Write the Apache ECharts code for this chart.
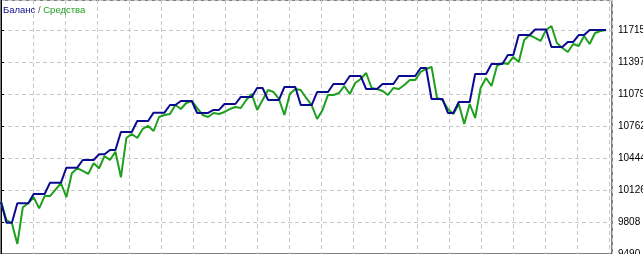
<!DOCTYPE html>
<html>
<head>
<meta charset="utf-8">
<script src="https://cdn.jsdelivr.net/npm/echarts@6/dist/echarts.min.js"></script>
<style>html,body{margin:0;padding:0;background:#fff;}#c{width:643px;height:254px;}</style>
</head>
<body>
<div id="c"></div>
<script>
// Balance (Баланс) per trade index
const balance = [10010,9801,9801,9994,9994,9994,10086,10086,10086,10199,10199,10199,10348,10348,10348,10424,10424,10424,10481,10481,
10523,10523,10702,10702,10702,10811,10811,10811,10894,10894,10894,10970,10970,11010,11010,11010,10891,10891,10891,10921,
10921,10980,10980,10980,11050,11050,11050,11139,11139,11020,11020,11020,11149,11149,11149,10970,10970,10970,11099,11099,
11099,11179,11179,11179,11258,11258,11258,11129,11129,11129,11179,11179,11179,11258,11258,11258,11258,11338,11338,11030,
11030,11030,10891,10891,11000,11000,11000,11278,11278,11278,11377,11377,11377,11467,11467,11665,11665,11665,11720,11720,
11720,11546,11546,11546,11596,11596,11665,11665,11715,11715,11715,11715];
// Equity (Средства) per trade index
const equity = [10010,9828,9795,9590,9954,9994,10054,9944,10066,10066,10130,10193,10054,10292,10342,10315,10285,10391,10342,10464,
10424,10506,10252,10642,10682,10642,10732,10762,10712,10851,10871,10881,10970,10930,10990,11010,10940,10871,10851,10891,
10881,10901,10930,10950,10940,11020,11079,10921,11020,11119,11099,11030,10871,11079,11129,11119,11040,10970,10831,10921,
11070,11070,11089,11159,11079,11189,11228,11288,11139,11129,11109,11070,11139,11129,11169,11218,11218,11298,11328,11348,
11040,11020,10930,10881,10980,10782,10980,10841,11139,11238,11159,11358,11387,11377,11447,11397,11616,11665,11636,11606,
11715,11755,11586,11536,11497,11576,11556,11655,11576,11685,11705,11715];
const yMin = 9490.4, yStep = 317.8, yMax = 12012.9;
const xMax = 112.11, xStep = 5.8716;

const chart = echarts.init(document.getElementById('c'), null, {renderer: 'canvas'});
chart.setOption({
  animation: false,
  backgroundColor: '#ffffff',
  title: {
    left: 3, top: 5, padding: 0,
    text: '{a|Баланс} {s|/} {b|Средства}',
    textStyle: {
      fontFamily: 'Liberation Sans', fontSize: 9.5, fontWeight: 'normal',
      rich: {
        a: {color: '#0b0b8f', fontFamily: 'Liberation Sans', fontSize: 9.5},
        s: {color: '#555555', fontFamily: 'Liberation Sans', fontSize: 9.5},
        b: {color: '#1ea01e', fontFamily: 'Liberation Sans', fontSize: 9.5}
      }
    }
  },
  grid: {left: 1, right: 31, top: 0, bottom: 0, outerBoundsMode: 'none', containLabel: false,
    show: true, borderColor: '#000', borderWidth: 1, backgroundColor: '#fff'},
  xAxis: {
    type: 'value', min: 0, max: xMax, interval: xStep,
    axisLine: {show: false}, axisTick: {show: false}, axisLabel: {show: false},
    splitLine: {show: true, lineStyle: {color: '#c8c8c8', type: [4, 3], width: 1}}
  },
  yAxis: {
    type: 'value', position: 'right', min: yMin, max: yMax, interval: yStep,
    axisLine: {show: true, lineStyle: {color: '#000', width: 1}},
    axisTick: {show: true, length: 3, lineStyle: {color: '#000'}},
    axisLabel: {show: true, showMaxLabel: false, margin: 6, color: '#000', fontFamily: 'Liberation Sans', fontSize: 10,
      verticalAlignMinLabel: 'middle',
      formatter: v => String(Math.round(v))},
    splitLine: {show: true, lineStyle: {color: '#c8c8c8', type: [4, 3], width: 1}}
  },
  series: [
    {type: 'line', name: 'Средства', data: equity.map((v, i) => [i, v]), showSymbol: false, symbol: 'none',
      lineStyle: {color: '#1ea01e', width: 2}, z: 2},
    {type: 'line', name: 'Баланс', data: balance.map((v, i) => [i, v]), showSymbol: false, symbol: 'none',
      lineStyle: {color: '#0b0b8f', width: 2}, z: 3}
  ]
});
</script>
</body>
</html>
